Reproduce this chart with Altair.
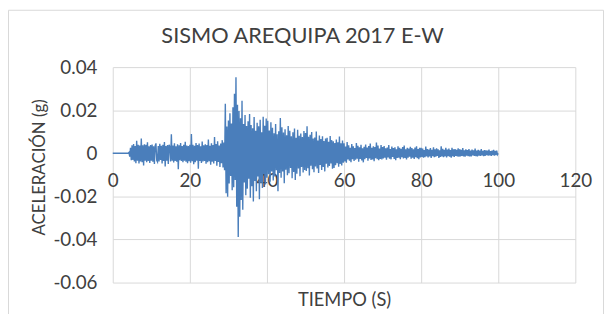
import altair as alt
import pandas as pd

TITLE = "SISMO AREQUIPA 2017 E-W"
X_TITLE = "TIEMPO (S)"
Y_TITLE = "ACELERACIÓN (g)"
X_TICKS = [0, 20, 40, 60, 80, 100, 120]
Y_TICKS = [-0.06, -0.04, -0.02, 0, 0.02, 0.04]

# acceleration, in milli-g, one list per 10 s window
SEG_STARTS = [0, 10, 20, 30, 40, 50, 60, 70, 80, 90]
ACC_00_10 = [0, 0, 0, 0, 0, 0, 0, 0, 0, 0, 0, 0, 0, 0, 0, 0, 0, 0, 0, 0, 0,
             0.4, -1.6, 2.6, -3.2, 3.7, -3.1, 4.3, -3.8, 3.4, -4.6, 5.8, -3.4, 3.9, -4.7, 3.6,
             -3.8, 6.9, -4.1, 3.7, -5.6, 4.2, -3.5, 3.9, -4.2, 5.1, -3.6, 3.3, -4.5, 3.8]
ACC_10_20 = [-3.4, 4.1, -3.9, 3.2, -5.0, 3.6, 4.6, -3.3, -4.0, 3.4, -3.8, 4.4, -3.1, 3.5, -4.7,
             3.9, -3.6, 5.2, -6.1, 3.4, -3.5, 3.8, -4.9, 4.0, 3.1, -3.8, 8.8, -3.4, 3.6, -4.3,
             4.6, -3.6, 3.3, -3.9, 4.2, -7.4, 3.7, -3.2, 4.8, -3.6, 3.4, -4.1, 3.9, -3.5, 5.4,
             -3.9, 3.6, -4.6, 3.4, -3.7]
ACC_20_30 = [3.9, -4.4, 8.9, -3.7, 4.0, -5.1, 3.5, -4.2, 4.8, -3.5, 3.8, -7.2, 4.5, -3.6, 3.3,
             -4.5, 5.5, -3.8, 3.7, -3.6, 4.2, -4.8, 3.8, -4.1, 6.4, -3.7, 3.5, -5.3, 4.7, -3.9,
             3.8, -4.7, 7.6, -3.6, 4.3, -5.8, 5.6, -4.0, 3.6, -6.4, 4.5, -4.6, 6.1, -6.6, 5.0,
             -7.9, 23.0, -18.5, 12.4, -20.2]
ACC_30_40 = [15.2, -14.0, 18.6, -10.5, 13.8, -17.2, 21.4, -15.8, 27.6, -12.4, 35.3, -24.8, 22.5,
             -38.8, 19.6, -29.5, 16.3, -21.7, 24.4, -26.2, 13.6, -13.6, 17.8, -19.5, 12.7, -16.4,
             14.9, -11.8, 18.2, -20.6, 13.1, -15.3, 11.6, -22.4, 16.8, -12.9, 10.4, -17.6, 14.2,
             -10.8, 12.5, -21.3, 15.6, -13.7, 9.8, -16.1, 17.0, -9.6, 12.8, -14.5, 16.2]
ACC_40_50 = [-11.4, 15.1, -9.7, 10.6, -13.2, 14.4, -8.5, 11.9, -12.6, 9.3, -10.8, 13.6,
             -7.9, 8.8, -17.6, 10.2, -9.1, 16.4, -11.3, 12.1, -8.4, 9.6, -13.9, 11.2, -7.6, 8.4,
             -10.2, 12.7, -9.3, 10.4, -6.8, 7.9, -11.6, 9.8, -8.7, 11.5, -12.4, 7.2, -9.5, 10.9,
             -7.1, 8.1, -10.6, 9.2, -6.4, 7.6, -8.9, 10.3, -7.8]
ACC_50_60 = [9.4, -8.2, 12.6, -6.9, 7.7, -10.3, 8.6, -5.8, 9.9, -7.4, 6.8, -8.8, 7.3, -6.1, 10.1,
             -7.0, 5.9, -9.1, 8.2, -5.4, 6.6, -7.8, 7.9, -6.3, 5.7, -8.4, 6.9, -4.9, 7.2, -6.6,
             5.3, -5.9, 8.0, -4.7, 6.1, -7.2, 5.6, -6.8, 4.8, -5.5, 6.4, -4.6, 5.1, -6.2, 7.8,
             -5.0, 4.7, -5.7, 5.9, -4.4]
ACC_60_70 = [4.6, -3.8, 3.1, -4.4, 5.2, -2.9, 3.7, -3.4, 2.6, -4.1, 4.3, -2.7, 3.2, -3.6, 2.4,
             -3.0, 4.8, -2.5, 3.5, -3.9, 2.8, -2.6, 3.9, -3.3, 2.3, -4.2, 3.0, -2.8, 4.1, -2.2,
             2.7, -3.5, 3.4, -2.4, 4.5, -3.1, 2.5, -2.9, 3.3, -3.7, 2.9, -2.3, 5.0, -2.7, 3.6,
             -3.2, 2.2, -2.6, 3.8, -2.9]
ACC_70_80 = [2.9, -2.4, 3.4, -2.1, 2.3, -3.0, 2.7, -1.9, 3.8, -2.5, 2.0, -2.8, 3.1, -1.7, 2.4,
             -2.6, 2.8, -3.2, 1.9, -2.2, 3.3, -2.0, 2.5, -2.7, 2.1, -1.8, 2.9, -2.4, 3.6, -2.2,
             1.8, -2.9, 2.6, -2.1, 2.2, -1.6, 3.0, -2.5, 2.4, -2.0, 1.9, -2.6, 2.7, -1.8, 3.2,
             -2.3, 2.0, -2.7, 2.5, -1.9]
ACC_80_90 = [2.6, -1.7, 2.2, -2.0, 1.5, -1.8, 3.1, -1.4, 2.0, -1.9, 1.7, -1.5, 2.4, -2.2, 1.6,
             -1.3, 2.8, -1.8, 1.9, -1.6, 2.3, -1.2, 1.8, -2.1, 1.4, -1.7, 3.3, -1.5, 2.1, -1.8,
             1.6, -1.4, 2.5, -1.9, 1.7, -1.3, 2.2, -1.6, 1.5, -2.0, 2.6, -1.4, 1.8, -1.7, 2.0,
             -1.2, 1.6, -1.5, 2.3, -1.6]
ACC_90_100 = [1.9, -1.4, 1.6, -1.2, 2.4, -1.5, 1.4, -1.6, 1.8, -1.1, 1.5, -1.3, 2.0, -1.4, 1.3,
              -1.5, 1.7, -1.0, 1.4, -1.2, 2.2, -1.3, 1.2, -1.4, 1.6, -1.1, 1.3, -1.2, 1.9, -1.0,
              1.1, -1.3, 1.5, -1.2, 1.4, -0.9, 1.2, -1.1, 1.7, -1.0, 1.0, -1.2, 1.3, -0.9, 1.6,
              -1.1, 1.1, -0.8, 1.2, -0.6]
END_TIME = 100
END_ACC = 0.0

SEGMENTS = [ACC_00_10, ACC_10_20, ACC_20_30, ACC_30_40, ACC_40_50,
            ACC_50_60, ACC_60_70, ACC_70_80, ACC_80_90, ACC_90_100]

rows = []
for start, vals in zip(SEG_STARTS, SEGMENTS):
    step = 10 / len(vals)
    for i, v in enumerate(vals):
        rows.append({"t": start + i * step, "a": v / 1000})
rows.append({"t": END_TIME, "a": END_ACC / 1000})
df = pd.DataFrame(rows)

FONT = "Lato"
TXT = "#404040"
GRID = "#d9d9d9"
W, H = 468, 218
ZERO_OFFSET = -(H * 0.06 / 0.10)

y_label_expr = ("datum.value == 0 ? '0' : (datum.value < 0 ? '-' + format(-datum.value, '.2f') "
                ": format(datum.value, '.2f'))")

x_scale = alt.Scale(domain=[0, 120], nice=False, zero=False)
y_scale = alt.Scale(domain=[-0.06, 0.04], nice=False)

signal = alt.Chart(df).mark_line(color="#4a7ebb", strokeWidth=1.4).encode(
    x=alt.X("t:Q", scale=x_scale,
            axis=alt.Axis(values=X_TICKS, grid=True, gridColor=GRID, labels=False, ticks=False,
                          domain=False, title=X_TITLE, titleX=W / 2, titleY=17,
                          titleBaseline="middle", titleFontSize=18.5, titleFont=FONT,
                          titleFontWeight="normal", titleColor=TXT)),
    y=alt.Y("a:Q", scale=y_scale,
            axis=alt.Axis(values=Y_TICKS, labelExpr=y_label_expr, grid=True, gridColor=GRID,
                          gridOpacity={"condition": {"test": "datum.value === 0", "value": 0},
                                       "value": 1},
                          domain=False, ticks=False, labelPadding=16, labelFontSize=19,
                          labelFont=FONT, labelColor=TXT, title=Y_TITLE, titleX=-74,
                          titleY=H / 2 - 8, titleAngle=-90, titleAlign="center",
                          titleBaseline="middle", titleFontSize=17, titleFont=FONT,
                          titleFontWeight="normal", titleColor=TXT)),
)

tick_df = pd.DataFrame({"t": X_TICKS})
x_labels = alt.Chart(tick_df).mark_point(opacity=0).encode(
    x=alt.X("t:Q", scale=x_scale,
            axis=alt.Axis(values=X_TICKS, grid=False, labels=True, ticks=False, domain=False,
                          offset=ZERO_OFFSET, labelPadding=6, labelFlush=False,
                          labelOverlap=False, labelFontSize=19, labelFont=FONT,
                          labelColor=TXT, title=None)),
    y=alt.datum(0),
)

border = alt.Chart(pd.DataFrame({"k": [0]})).mark_rect(
    fill=None, stroke=GRID, strokeWidth=1
).encode(
    x=alt.value(-105.5), x2=alt.value(496.5), y=alt.value(-57.5), y2=alt.value(400)
)

title_text = alt.Chart(pd.DataFrame({"title": [TITLE]})).mark_text(
    font=FONT, fontSize=22, color=TXT, align="center", baseline="middle"
).encode(
    text="title:N", x=alt.value(192), y=alt.value(-31)
)

chart = alt.layer(border, signal, x_labels, title_text).resolve_axis(x="independent").properties(
    width=W, height=H,
    autosize=alt.AutoSizeParams(type="none"),
    padding={"left": 106, "top": 58, "right": 29, "bottom": 30},
).configure_view(stroke=None)

chart.save("out.html", embed_options={"renderer": "svg", "actions": False})
